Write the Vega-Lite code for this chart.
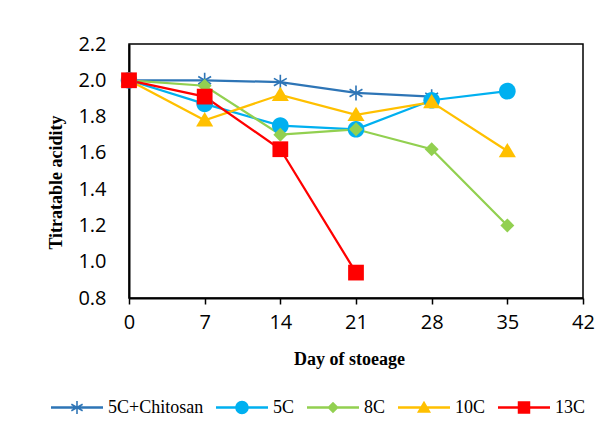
{
  "$schema": "https://vega.github.io/schema/vega-lite/v6.json",
  "width": 454,
  "height": 254,
  "autosize": {"type": "none"},
  "padding": {"left": 129, "top": 44, "right": 26, "bottom": 137},
  "background": "white",
  "config": {
    "view": {"stroke": "black", "strokeWidth": 1.5},
    "axis": {"domainColor": "black", "domainWidth": 2, "grid": false, "labelFont": "Open Sans", "labelFontSize": 20, "labelColor": "black", "titleFont": "Liberation Serif", "titleFontSize": 18, "titleFontWeight": "bold", "titleColor": "black"},
    "legend": {"labelFont": "Liberation Serif", "labelFontSize": 18, "labelColor": "black", "labelOffset": 5, "columnPadding": 12, "symbolSize": 2704, "padding": 0, "labelLimit": 300, "direction": "horizontal", "orient": "none", "title": null, "symbolOpacity": 1, "symbolStrokeWidth": 0}
  },
  "data": {
    "values": [
      {"day": 0, "acid": 2.0, "series": "5C+Chitosan"},
      {"day": 7, "acid": 2.0, "series": "5C+Chitosan"},
      {"day": 14, "acid": 1.99, "series": "5C+Chitosan"},
      {"day": 21, "acid": 1.93, "series": "5C+Chitosan"},
      {"day": 28, "acid": 1.91, "series": "5C+Chitosan"},
      {"day": 0, "acid": 2.0, "series": "5C"},
      {"day": 7, "acid": 1.87, "series": "5C"},
      {"day": 14, "acid": 1.75, "series": "5C"},
      {"day": 21, "acid": 1.73, "series": "5C"},
      {"day": 28, "acid": 1.89, "series": "5C"},
      {"day": 35, "acid": 1.94, "series": "5C"},
      {"day": 0, "acid": 2.0, "series": "8C"},
      {"day": 7, "acid": 1.97, "series": "8C"},
      {"day": 14, "acid": 1.70, "series": "8C"},
      {"day": 21, "acid": 1.73, "series": "8C"},
      {"day": 28, "acid": 1.62, "series": "8C"},
      {"day": 35, "acid": 1.2, "series": "8C"},
      {"day": 0, "acid": 2.0, "series": "10C"},
      {"day": 7, "acid": 1.78, "series": "10C"},
      {"day": 14, "acid": 1.92, "series": "10C"},
      {"day": 21, "acid": 1.81, "series": "10C"},
      {"day": 28, "acid": 1.88, "series": "10C"},
      {"day": 35, "acid": 1.61, "series": "10C"},
      {"day": 0, "acid": 2.0, "series": "13C"},
      {"day": 7, "acid": 1.91, "series": "13C"},
      {"day": 14, "acid": 1.62, "series": "13C"},
      {"day": 21, "acid": 0.94, "series": "13C"}
    ]
  },
  "encoding": {
    "x": {
      "field": "day", "type": "quantitative",
      "scale": {"domain": [0, 42], "nice": false},
      "axis": {"values": [0, 7, 14, 21, 28, 35, 42], "title": "Day of stoeage", "tickColor": "black", "tickWidth": 1.5, "tickSize": 6, "labelPadding": 8, "labelFlush": false, "titleX": 220, "titleY": 52, "titleAnchor": null}
    },
    "y": {
      "field": "acid", "type": "quantitative",
      "scale": {"domain": [0.8, 2.2], "nice": false, "zero": false},
      "axis": {"values": [0.8, 1.0, 1.2, 1.4, 1.6, 1.8, 2.0, 2.2], "format": ".1f", "ticks": false, "tickSize": 0, "labelPadding": 23, "labelFlush": false, "title": "Titratable acidity", "titleX": -64, "titleY": 138, "titleAngle": 270, "titleBaseline": "bottom", "titleAlign": "center"}
    }
  },
  "resolve": {"scale": {"shape": "independent", "color": "independent"}, "legend": {"shape": "independent", "color": "independent"}},
  "layer": [
    {
      "mark": {"type": "line", "strokeWidth": 2.25},
      "encoding": {
        "stroke": {
          "field": "series", "type": "nominal",
          "scale": {"domain": ["5C+Chitosan", "5C", "8C", "10C", "13C"], "range": ["#2E75B6", "#00B0F0", "#92D050", "#FFC000", "#FF0000"]},
          "legend": null
        }
      }
    },
    {
      "mark": {"type": "point", "filled": true, "opacity": 1, "size": 2025, "strokeWidth": 0},
      "encoding": {
        "fill": {
          "field": "series", "type": "nominal",
          "scale": {"domain": ["5C+Chitosan", "5C", "8C", "10C", "13C"], "range": ["#2E75B6", "#00B0F0", "#92D050", "#FFC000", "#FF0000"]},
          "legend": null
        },
        "shape": {
          "field": "series", "type": "nominal",
          "scale": {"domain": ["5C+Chitosan", "5C", "8C", "10C", "13C"], "range": [
            "M-0.036,-0.33L0.036,-0.33L0.036,0.33L-0.036,0.33ZM0.2678,0.1962L-0.3038,-0.1338L-0.2678,-0.1962L0.3038,0.1338ZM0.3038,-0.1338L-0.2678,0.1962L-0.3038,0.1338L0.2678,-0.1962Z",
            "M-0.37,0A0.37,0.37,0,1,1,0.37,0A0.37,0.37,0,1,1,-0.37,0Z",
            "M0,-0.31L0.31,0L0,0.31L-0.31,0Z",
            "M0,-0.36L0.38,0.28L-0.38,0.28Z",
            "M-0.35,-0.35L0.35,-0.35L0.35,0.35L-0.35,0.35Z"
          ]},
          "legend": null
        }
      }
    },
    {
      "mark": {"type": "point", "filled": true, "opacity": 0, "size": 2704, "strokeWidth": 0},
      "encoding": {
        "color": {
          "field": "series", "type": "nominal",
          "scale": {"domain": ["5C+Chitosan", "5C", "8C", "10C", "13C"], "range": ["#2E75B6", "#00B0F0", "#92D050", "#FFC000", "#FF0000"]},
          "legend": {
            "title": null, "orient": "none", "direction": "horizontal", "columns": 5,
            "legendX": -78, "legendY": 337.5, "padding": 0,
            "symbolSize": 2704, "symbolStrokeWidth": 0, "symbolOpacity": 1,
            "labelFont": "Liberation Serif", "labelFontSize": 18, "labelColor": "black", "labelOffset": 5, "columnPadding": 12, "labelLimit": 300
          }
        },
        "shape": {
          "field": "series", "type": "nominal",
          "scale": {"domain": ["5C+Chitosan", "5C", "8C", "10C", "13C"], "range": [
            "M-1,-0.05L1,-0.05L1,0.05L-1,0.05ZM-0.03,-0.25L0.03,-0.25L0.03,0.25L-0.03,0.25ZM0.2015,0.1510L-0.2315,-0.0990L-0.2015,-0.1510L0.2315,0.0990ZM0.2315,-0.0990L-0.2015,0.1510L-0.2315,0.0990L0.2015,-0.1510Z",
            "M-1,-0.05L1,-0.05L1,0.05L-1,0.05ZM-0.26,0A0.26,0.26,0,1,1,0.26,0A0.26,0.26,0,1,1,-0.26,0Z",
            "M-1,-0.05L1,-0.05L1,0.05L-1,0.05ZM0,-0.22L0.22,0L0,0.22L-0.22,0Z",
            "M-1,-0.05L1,-0.05L1,0.05L-1,0.05ZM0,-0.26L0.27,0.2L-0.27,0.2Z",
            "M-1,-0.05L1,-0.05L1,0.05L-1,0.05ZM-0.24,-0.24L0.24,-0.24L0.24,0.24L-0.24,0.24Z"
          ]},
          "legend": {
            "title": null, "orient": "none", "direction": "horizontal", "columns": 5,
            "legendX": -78, "legendY": 337.5, "padding": 0,
            "symbolSize": 2704, "symbolStrokeWidth": 0, "symbolOpacity": 1,
            "labelFont": "Liberation Serif", "labelFontSize": 18, "labelColor": "black", "labelOffset": 5, "columnPadding": 12, "labelLimit": 300
          }
        }
      }
    }
  ]
}
